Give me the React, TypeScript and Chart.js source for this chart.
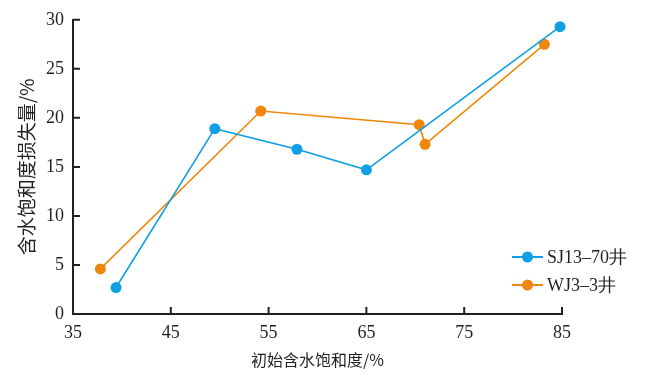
import React, { useEffect, useRef } from "react";
import { Chart, registerables } from "chart.js";

Chart.register(...registerables);

const seriesNames = ["SJ13–70井", "WJ3–3井"];
const sjX = [39.4, 49.5, 57.9, 65.0, 84.8];
const sjY = [2.7, 18.9, 16.8, 14.7, 29.3];
const wjX = [37.8, 54.2, 70.4, 71.0, 83.2];
const wjY = [4.6, 20.7, 19.3, 17.3, 27.5];
const xTicks = [35, 45, 55, 65, 75, 85];
const yTicks = [0, 5, 10, 15, 20, 25, 30];
const colors = ["#119fe4", "#f0870c"];
const xTitle = "初始含水饱和度/%";
const yTitle = "含水饱和度损失量/%";

const toPoints = (xs: number[], ys: number[]) => xs.map((x, i) => ({ x, y: ys[i] }));

const serif = "'Liberation Serif', 'Times New Roman', serif";
const cjk = "'Noto Sans CJK SC', sans-serif";

const decorPlugin = {
  id: "decor",
  afterDraw(chart: any) {
    const { ctx, chartArea, scales } = chart;
    ctx.save();
    ctx.strokeStyle = "#231f20";
    ctx.lineWidth = 2;
    ctx.beginPath();
    xTicks.forEach((v) => {
      const px = scales.x.getPixelForValue(v);
      ctx.moveTo(px, chartArea.bottom);
      ctx.lineTo(px, chartArea.bottom - 7);
    });
    yTicks.forEach((v) => {
      const py = scales.y.getPixelForValue(v);
      ctx.moveTo(chartArea.left, py);
      ctx.lineTo(chartArea.left + 7, py);
    });
    ctx.stroke();

    // legend
    const lx = 512;
    const ly = [257, 285];
    chart.data.datasets.forEach((ds: any, i: number) => {
      const y = ly[i];
      ctx.strokeStyle = ds.borderColor;
      ctx.lineWidth = 2;
      ctx.beginPath();
      ctx.moveTo(lx, y);
      ctx.lineTo(lx + 31, y);
      ctx.stroke();
      ctx.fillStyle = ds.backgroundColor;
      ctx.beginPath();
      ctx.arc(lx + 15.5, y, 5.5, 0, Math.PI * 2);
      ctx.fill();
      ctx.fillStyle = "#231f20";
      ctx.font = `18px ${serif}`;
      ctx.textBaseline = "middle";
      ctx.textAlign = "left";
      ctx.fillText(ds.label, lx + 35, y + 1);
    });
    ctx.restore();
  },
};

export default function App() {
  const ref = useRef<HTMLCanvasElement>(null);
  useEffect(() => {
    if (!ref.current) return;
    const chart = new Chart(ref.current, {
      type: "scatter",
      data: {
        datasets: [
          { x: sjX, y: sjY },
          { x: wjX, y: wjY },
        ].map((s, i) => ({
          label: seriesNames[i],
          data: toPoints(s.x, s.y),
          showLine: true,
          borderColor: colors[i],
          backgroundColor: colors[i],
          borderWidth: 1.6,
          pointRadius: 5.5,
          pointBorderWidth: 0,
          pointHoverRadius: 5.5,
          clip: false,
        })),
      },
      options: {
        animation: false,
        responsive: false,
        maintainAspectRatio: false,
        layout: { padding: { top: 19, right: 107, left: 0, bottom: 0 } },
        plugins: { legend: { display: false }, tooltip: { enabled: false } },
        scales: {
          x: {
            type: "linear",
            min: 35,
            max: 85,
            afterBuildTicks: (s: any) => {
              s.ticks = xTicks.map((v) => ({ value: v }));
            },
            afterFit: (s: any) => {
              s.height = 63;
            },
            grid: { display: false, drawTicks: false },
            border: { display: true, color: "#231f20", width: 2 },
            ticks: {
              color: "#231f20",
              font: { family: serif, size: 18 },
              padding: 8,
              maxRotation: 0,
            },
            title: {
              display: true,
              text: xTitle,
              color: "#231f20",
              font: { family: cjk, size: 16 },
              padding: { top: 0, bottom: 7 },
            },
          },
          y: {
            type: "linear",
            min: 0,
            max: 30,
            afterBuildTicks: (s: any) => {
              s.ticks = yTicks.map((v) => ({ value: v }));
            },
            afterFit: (s: any) => {
              s.width = 73;
            },
            grid: { display: false, drawTicks: false },
            border: { display: true, color: "#231f20", width: 2 },
            ticks: {
              color: "#231f20",
              font: { family: serif, size: 18 },
              padding: 9,
            },
            title: {
              display: true,
              text: yTitle,
              color: "#231f20",
              font: { family: cjk, size: 19 },
              padding: { top: 15, bottom: 0 },
            },
          },
        },
      },
      plugins: [decorPlugin],
    });
    return () => chart.destroy();
  }, []);
  return (
    <div style={{ position: "fixed", left: 0, top: 0, width: 669, height: 377, background: "#fff" }}>
      <canvas ref={ref} width={669} height={377} style={{ width: 669, height: 377 }} />
    </div>
  );
}
